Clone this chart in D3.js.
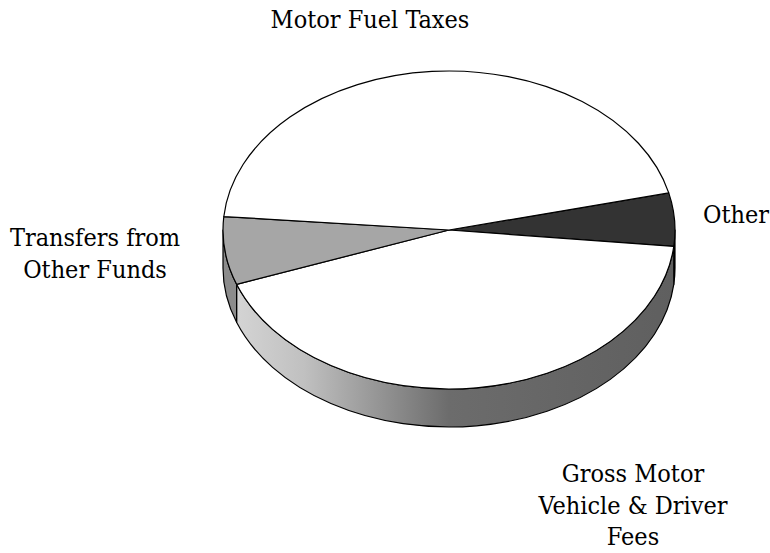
<!DOCTYPE html>
<html>
<head>
<meta charset="utf-8">
<script src="https://cdn.jsdelivr.net/npm/d3@7"></script>
<style>
    html, body { margin: 0; padding: 0; background: #fff; }
    svg { display: block; }
    .face, .wall { stroke: #000; stroke-width: 1.2; stroke-linejoin: round; }
</style>
</head>
<body>
<div id="chart"></div>
<script>
// --- Data (share of revenue, %) ---
const categories = ["Other", "Gross Motor Vehicle & Driver Fees", "Transfers from Other Funds", "Motor Fuel Taxes"];
const values = [5.4, 42.8, 6.9, 44.9];
const labelLines = [["Other"], ["Gross Motor", "Vehicle & Driver", "Fees"], ["Transfers from", "Other Funds"], ["Motor Fuel Taxes"]];

// --- Layout ---
const width = 770, height = 553;
const cx = 449, cy = 230, rx = 226, ry = 159, depth = 38;
const startDeg = 76.5;
const fontFamily = "'DejaVu Serif Condensed', 'DejaVu Serif', serif";

const topColor = { "Other": "#333333", "Gross Motor Vehicle & Driver Fees": "#ffffff", "Transfers from Other Funds": "#a6a6a6", "Motor Fuel Taxes": "#ffffff" };
const wallColor = { "Other": "#2a2a2a", "Gross Motor Vehicle & Driver Fees": "url(#wallGrad)", "Transfers from Other Funds": "#8c8c8c", "Motor Fuel Taxes": "#ffffff" };
const labelPos = {
    "Other": { x: 736, y: 223 },
    "Gross Motor Vehicle & Driver Fees": { x: 633, y: 482 },
    "Transfers from Other Funds": { x: 95, y: 246 },
    "Motor Fuel Taxes": { x: 370, y: 28 }
};
const lineGap = 31.5;

const svg = d3.select("#chart").append("svg")
    .attr("width", width)
    .attr("height", height);

const grad = svg.append("defs").append("linearGradient")
    .attr("id", "wallGrad")
    .attr("gradientUnits", "userSpaceOnUse")
    .attr("x1", cx - rx).attr("x2", cx + rx).attr("y1", 0).attr("y2", 0);
[[0, "#d8d8d8"], [0.18, "#c0c0c0"], [0.5, "#6c6c6c"], [1, "#5f5f5f"]].forEach(([o, c]) => {
    grad.append("stop").attr("offset", o).attr("stop-color", c);
});

const start = startDeg * Math.PI / 180;
const pie = d3.pie().sort(null).startAngle(start).endAngle(start + 2 * Math.PI);
const arcs = pie(values).map((d, i) => ({ ...d, name: categories[i] }));

// point on the ellipse for a pie angle (0 = 12 o'clock, clockwise)
const pt = (a, dy = 0) => [cx + rx * Math.sin(a), cy - ry * Math.cos(a) + dy];

function wallPath(a0, a1) {
    const lo = Math.max(a0, Math.PI / 2), hi = Math.min(a1, 3 * Math.PI / 2);
    if (hi <= lo) return null;
    const p0 = pt(lo), p1 = pt(hi), q1 = pt(hi, depth), q0 = pt(lo, depth);
    return `M${p0}A${rx},${ry} 0 0 1 ${p1}L${q1}A${rx},${ry} 0 0 0 ${q0}Z`;
}

function facePath(a0, a1) {
    const p0 = pt(a0), p1 = pt(a1);
    const large = (a1 - a0) > Math.PI ? 1 : 0;
    return `M${cx},${cy}L${p0}A${rx},${ry} 0 ${large} 1 ${p1}Z`;
}

// side walls
svg.append("g").selectAll("path")
    .data(arcs.filter(d => wallPath(d.startAngle, d.endAngle)))
    .join("path")
    .attr("class", "wall")
    .attr("d", d => wallPath(d.startAngle, d.endAngle))
    .attr("fill", d => wallColor[d.name]);

// top faces
svg.append("g").selectAll("path")
    .data(arcs)
    .join("path")
    .attr("class", "face")
    .attr("d", d => facePath(d.startAngle, d.endAngle))
    .attr("fill", d => topColor[d.name]);

// labels
const labels = svg.append("g").selectAll("text")
    .data(arcs)
    .join("text")
    .attr("font-family", fontFamily)
    .attr("font-size", 25)
    .attr("fill", "#000")
    .attr("text-anchor", "middle")
    .attr("x", d => labelPos[d.name].x)
    .attr("y", d => labelPos[d.name].y);

labels.selectAll("tspan")
    .data((d, i) => labelLines[i].map(t => ({ t, x: labelPos[d.name].x })))
    .join("tspan")
    .attr("x", d => d.x)
    .attr("dy", (d, i) => i === 0 ? 0 : lineGap)
    .text(d => d.t);
</script>
</body>
</html>
